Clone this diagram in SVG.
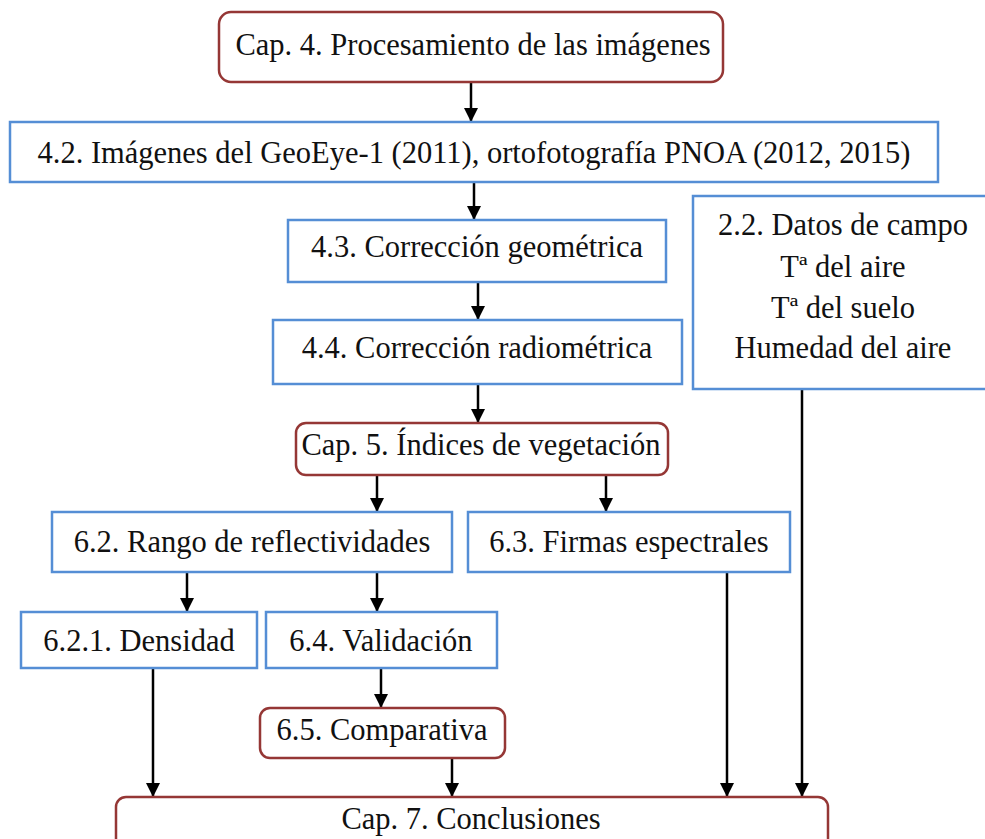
<svg xmlns="http://www.w3.org/2000/svg" width="985" height="839" viewBox="0 0 985 839">
<style>
.red{fill:#fff;stroke:#953735;stroke-width:2.5}
.blue{fill:#fff;stroke:#558ED5;stroke-width:2.5}
text{font-family:"Liberation Serif","DejaVu Serif",serif;font-size:30.5px;fill:#111;text-anchor:middle}
.c line{stroke:#000;stroke-width:2.5;marker-end:url(#ah)}
</style>
<defs>
<marker id="ah" markerUnits="userSpaceOnUse" markerWidth="14" markerHeight="16" refX="13" refY="7" orient="auto"><path d="M0,0 L14,7 L0,14 Z" fill="#000"/></marker>
</defs>
<rect width="985" height="839" fill="#fff"/>
<g class="c">
<line x1="471" y1="82" x2="471" y2="121"/>
<line x1="474" y1="182" x2="474" y2="219"/>
<line x1="478" y1="282" x2="478" y2="319"/>
<line x1="478" y1="384" x2="478" y2="422"/>
<line x1="377" y1="475" x2="377" y2="511"/>
<line x1="606" y1="475" x2="606" y2="511"/>
<line x1="187" y1="572" x2="187" y2="611"/>
<line x1="377" y1="572" x2="377" y2="611"/>
<line x1="381" y1="668" x2="381" y2="707"/>
<line x1="153" y1="668" x2="153" y2="796"/>
<line x1="452" y1="758" x2="452" y2="796"/>
<line x1="727" y1="572" x2="727" y2="796"/>
<line x1="802" y1="389" x2="802" y2="796"/>
</g>
<g id="cap4"><rect class="red" x="219" y="12" width="504" height="70" rx="12"/><text x="473" y="55">Cap. 4. Procesamiento de las imágenes</text></g>
<g id="n42"><rect class="blue" x="10" y="122" width="928" height="60"/><text x="474" y="163">4.2. Imágenes del GeoEye-1 (2011), ortofotografía PNOA (2012, 2015)</text></g>
<g id="n43"><rect class="blue" x="288" y="220" width="378" height="62"/><text x="477" y="257">4.3. Corrección geométrica</text></g>
<g id="n44"><rect class="blue" x="273" y="320" width="409" height="64"/><text x="477" y="358">4.4. Corrección radiométrica</text></g>
<g id="n22"><rect class="blue" x="693" y="196" width="310" height="193"/><text x="843" y="235">2.2. Datos de campo</text><text x="843" y="277">Tª del aire</text><text x="843" y="318">Tª del suelo</text><text x="843" y="358">Humedad del aire</text></g>
<g id="cap5"><rect class="red" x="296" y="423" width="372" height="52" rx="10"/><text x="481" y="455">Cap. 5. Índices de vegetación</text></g>
<g id="n62"><rect class="blue" x="52" y="512" width="400" height="60"/><text x="252" y="552">6.2. Rango de reflectividades</text></g>
<g id="n63"><rect class="blue" x="468" y="512" width="322" height="60"/><text x="629" y="552">6.3. Firmas espectrales</text></g>
<g id="n621"><rect class="blue" x="21" y="612" width="236" height="56"/><text x="139" y="651">6.2.1. Densidad</text></g>
<g id="n64"><rect class="blue" x="266" y="612" width="231" height="56"/><text x="381" y="651">6.4. Validación</text></g>
<g id="n65"><rect class="red" x="260" y="708" width="245" height="50" rx="10"/><text x="382" y="740">6.5. Comparativa</text></g>
<g id="cap7"><rect class="red" x="116" y="797" width="712" height="60" rx="10"/><text x="471" y="829">Cap. 7. Conclusiones</text></g>
</svg>
